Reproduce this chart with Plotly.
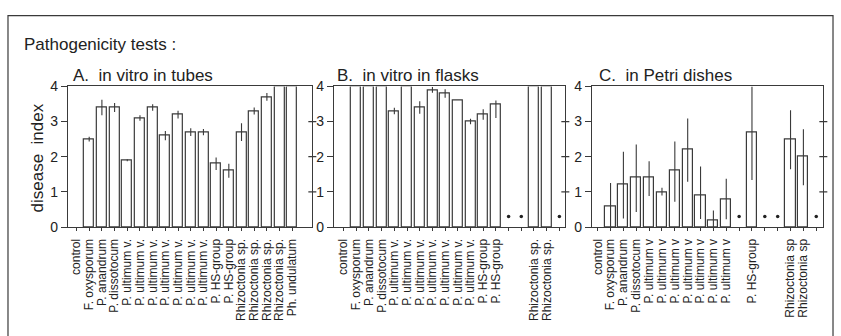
import plotly.graph_objects as go

W, H = 841, 336

# ---------------- data ----------------
labels_A = (["control", "F. oxysporum", "P. anandrum", "P. dissotocum"]
            + ["P. ultimum v."] * 7 + ["P. HS-group"] * 2
            + ["Rhizoctonia sp."] * 4 + ["Ph. undulatum"])
labels_B = (["control", "F. oxysporum", "P. anandrum", "P. dissotocum"]
            + ["P. ultimum v."] * 7 + ["P. HS-group"] * 2
            + ["", ""] + ["Rhizoctonia sp."] * 2 + [""])
labels_C = (["control", "F. oxysporum", "P. anandrum", "P. dissotocum"]
            + ["P. ultimum v"] * 7
            + ["", "P. HS-group", "", "", "Rhizoctonia sp", "Rhizoctonia sp", ""])

values_A = [None, 2.5, 3.4, 3.4, 1.9, 3.1, 3.4, 2.6, 3.2, 2.7, 2.7, 1.8, 1.6, 2.7, 3.3, 3.7, 4.0, 4.0]
err_up_A = [0, 0.07, 0.22, 0.13, 0.03, 0.08, 0.09, 0.13, 0.11, 0.11, 0.09, 0.18, 0.2, 0.25, 0.1, 0.11, 0, 0]
err_dn_A = err_up_A

values_B = [None, 4.0, 4.0, 4.0, 3.3, 4.0, 3.4, 3.9, 3.8, 3.6, 3.0, 3.2, 3.5, None, None, 4.0, 4.0, None]
err_up_B = [0, 0, 0, 0, 0.09, 0, 0.18, 0.08, 0.12, 0, 0.08, 0.15, 0.1, 0, 0, 0, 0, 0]
err_dn_B = [0, 0, 0, 0, 0.09, 0, 0.18, 0.08, 0.12, 0, 0.08, 0.15, 0.4, 0, 0, 0, 0, 0]

values_C = [None, 0.6, 1.2, 1.4, 1.4, 1.0, 1.6, 2.2, 0.9, 0.2, 0.8, None, 2.7, None, None, 2.5, 2.0, None]
err_hi_C = [None, 1.25, 2.14, 2.35, 1.87, 1.12, 2.43, 3.09, 1.72, 0.47, 1.37, None, 4.0, None, None, 3.32, 2.78, None]
err_lo_C = [None, 0.0, 0.24, 0.43, 0.88, 0.9, 0.72, 1.29, 0.23, 0.0, 0.22, None, 1.34, None, None, 1.64, 1.19, None]

not_tested_B = [13, 14, 17]
not_tested_C = [11, 13, 14, 17]
dot_level = 0.3

titles = ["A.\u00a0 in vitro in tubes", "B.\u00a0 in vitro in flasks", "C.\u00a0 in Petri dishes"]

# ---------------- styling / layout helpers ----------------
LINE = "#3a3a3a"
TXT = "#222222"
FONT = "Liberation Sans, Arial, Helvetica, sans-serif"

def px_x(p):
    return p / W

def px_y(p):
    return 1 - p / H

x_domains = [(67, 311.7), (333.3, 565), (591.7, 823.3)]
x_ranges = [(-0.677, 18.58), (-0.763, 17.47), (-0.443, 17.55)]
y_dom = [px_y(230), px_y(82.3)]
title_x = [70, 334, 597]

idx = list(range(len(labels_A)))

fig = go.Figure()

# error arrays for C (relative)
up_C = [(h - v) if v is not None else 0 for v, h in zip(values_C, err_hi_C)]
dn_C = [(v - l) if v is not None else 0 for v, l in zip(values_C, err_lo_C)]

panel_data = [
    (values_A, err_up_A, err_dn_A, labels_A, []),
    (values_B, err_up_B, err_dn_B, labels_B, not_tested_B),
    (values_C, up_C, dn_C, labels_C, not_tested_C),
]

shapes = []
annotations = []
for n, (vals, up, dn, labs, dots) in enumerate(panel_data, start=1):
    xs = "" if n == 1 else str(n)
    fig.add_trace(go.Bar(
        x=idx, y=vals, width=0.79,
        marker=dict(color="white", line=dict(color=LINE, width=1.2)),
        error_y=dict(type="data", symmetric=False, array=up, arrayminus=dn,
                     width=0, thickness=1.1, color=LINE),
        xaxis="x" + xs, yaxis="y" + xs, showlegend=False,
    ))
    if dots:
        fig.add_trace(go.Scatter(
            x=dots, y=[dot_level] * len(dots), mode="markers",
            marker=dict(color="#222", size=3.5),
            xaxis="x" + xs, yaxis="y" + xs, showlegend=False,
        ))
    d0, d1 = x_domains[n - 1]
    fig.update_layout(**{
        "xaxis" + xs: dict(
            domain=[px_x(d0), px_x(d1)], range=list(x_ranges[n - 1]),
            tickmode="array", tickvals=idx, ticktext=labs, tickangle=-90,
            ticks="outside", ticklen=3, tickcolor=LINE, tickwidth=1,
            ticklabelstandoff=3,
            showline=True, linecolor=LINE, linewidth=1.2, mirror=True,
            showgrid=False, zeroline=False, anchor="y" + xs,
            tickfont=dict(family=FONT, size=12, color=TXT), fixedrange=True,
        ),
        "yaxis" + xs: dict(
            domain=y_dom, range=[0, 4], tickmode="array", tickvals=[0, 1, 2, 3, 4],
            ticks="outside", ticklen=6, tickcolor=LINE, tickwidth=1.2,
            showline=True, linecolor=LINE, linewidth=1.2, mirror=True,
            showgrid=False, zeroline=False, anchor="x" + xs,
            tickfont=dict(family=FONT, size=14, color=TXT), fixedrange=True,
        ),
    })
    # crossing ticks on right side of each panel
    for v in [1, 2, 3]:
        shapes.append(dict(type="line", xref="x" + xs + " domain", yref="y" + xs,
                           xsizemode="pixel", xanchor=1, x0=-4, x1=4, y0=v, y1=v,
                           line=dict(color=LINE, width=1.2)))
    annotations.append(dict(text=titles[n - 1], x=px_x(title_x[n - 1]), y=px_y(71),
                            xref="paper", yref="paper", xanchor="left", yanchor="middle",
                            showarrow=False, font=dict(family=FONT, size=17, color=TXT)))

annotations.append(dict(text="Pathogenicity tests :", x=px_x(21), y=px_y(38),
                        xref="paper", yref="paper", xanchor="left", yanchor="middle",
                        showarrow=False, font=dict(family=FONT, size=17, color=TXT)))
annotations.append(dict(text="disease\u00a0 index", x=px_x(37), y=px_y(157),
                        xref="paper", yref="paper", xanchor="center", yanchor="middle",
                        textangle=-90, showarrow=False,
                        font=dict(family=FONT, size=17, color=TXT)))

# outer frame (its bottom edge lies below the visible area)
shapes.append(dict(type="rect", xref="paper", yref="paper",
                   x0=px_x(7), x1=px_x(833), y0=px_y(345), y1=px_y(8),
                   line=dict(color=LINE, width=1.2)))

fig.update_layout(
    width=W, height=H, margin=dict(l=0, r=0, t=0, b=0),
    paper_bgcolor="white", plot_bgcolor="white",
    shapes=shapes, annotations=annotations, bargap=0,
    font=dict(family=FONT, color=TXT),
)

fig.write_html("out.html")
